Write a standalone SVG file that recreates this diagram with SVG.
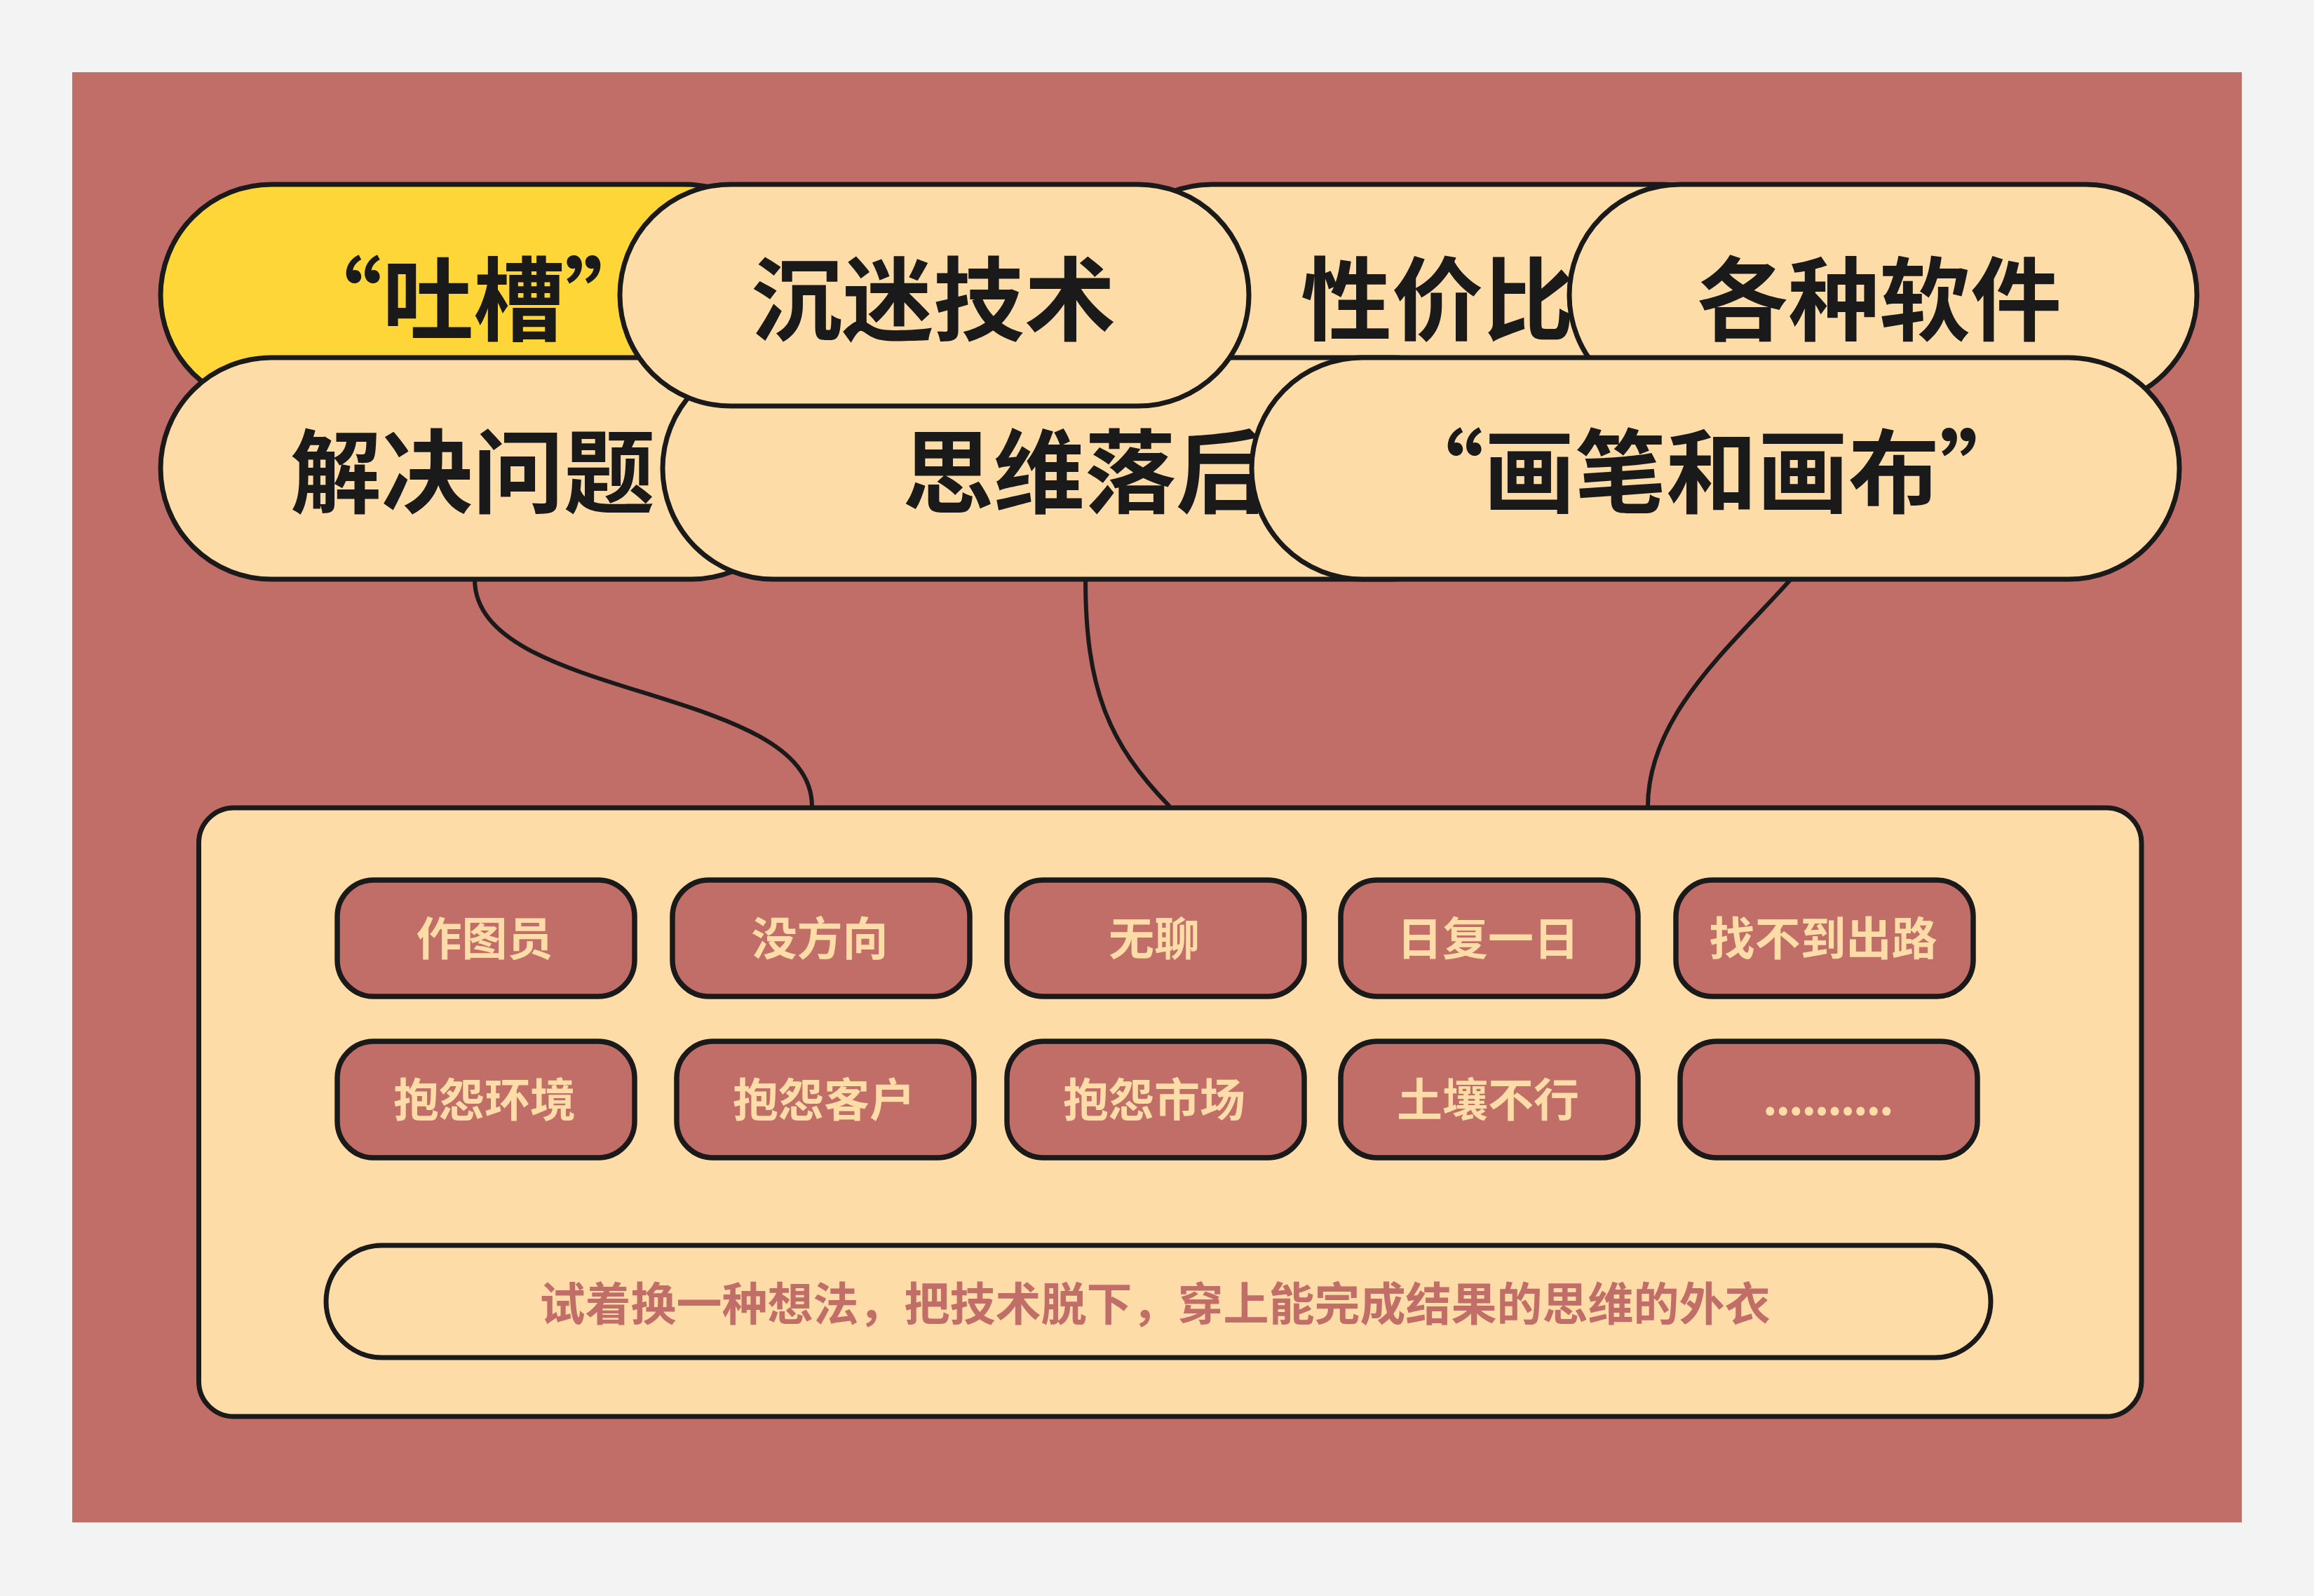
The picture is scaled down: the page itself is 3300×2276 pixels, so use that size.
<svg xmlns="http://www.w3.org/2000/svg" width="3300" height="2276" viewBox="0 0 3300 2276">
<style>
.pill{fill:#fddca8;stroke:#1a1a1a;stroke-width:7}
.pill-y{fill:#fed637;stroke:#1a1a1a;stroke-width:7}
.big{font-family:"Noto Sans CJK SC","Noto Sans",sans-serif;font-weight:700;font-size:130px;fill:#1a1a1a;text-anchor:middle}
.box{fill:#c16d68;stroke:#1a1a1a;stroke-width:7.5}
.small{font-family:"Noto Sans CJK SC","Noto Sans",sans-serif;font-weight:700;font-size:65px;fill:#fddca8;text-anchor:middle}
.note{font-family:"Noto Sans CJK SC","Noto Sans",sans-serif;font-weight:700;font-size:65px;fill:#c16d68;text-anchor:middle}
.conn{fill:none;stroke:#1a1a1a;stroke-width:6}
</style>
<rect x="0" y="0" width="3300" height="2276" fill="#f3f3f3"/>
<rect x="103" y="103" width="3094" height="2068" fill="#c16d68"/>
<g id="connectors">
<path class="conn" d="M 677 826 C 677 1000 1158 975 1158 1150"/>
<path class="conn" d="M 1548 826 C 1548 980 1580 1060 1668 1150"/>
<path class="conn" d="M 2553 827 C 2470 920 2350 1020 2350 1150"/>
</g>
<g id="node-tucao"><rect class="pill-y" x="229" y="263" width="905" height="316" rx="158" ry="158"/><text class="big" x="675" y="475">“吐槽”</text></g>
<g id="node-xingjiabi"><rect class="pill" x="1570" y="263" width="960" height="316" rx="158" ry="158"/><text class="big" x="2050" y="475">性价比</text></g>
<g id="node-gezhongruanjian"><rect class="pill" x="2238" y="263" width="895" height="316" rx="158" ry="158"/><text class="big" x="2680" y="475">各种软件</text></g>
<g id="node-jiejuewenti"><rect class="pill" x="229" y="510" width="915" height="316" rx="158" ry="158"/><text class="big" x="674" y="721">解决问题</text></g>
<g id="node-siweiluohou"><rect class="pill" x="945" y="510" width="1200" height="316" rx="158" ry="158"/><text class="big" x="1547" y="721">思维落后</text></g>
<g id="node-huabi"><rect class="pill" x="1785" y="510" width="1323" height="316" rx="158" ry="158"/><text class="big" x="2441" y="721">“画笔和画布”</text></g>
<g id="node-chenmi"><rect class="pill" x="884" y="263" width="897" height="316" rx="158" ry="158"/><text class="big" x="1331" y="475">沉迷技术</text></g>
<g id="node-container">
<rect class="pill" x="283.5" y="1152" width="2770.5" height="868" rx="50" ry="50"/>
<g id="item-zuotuyuan"><rect class="box" x="481" y="1255" width="424" height="166" rx="52" ry="52"/><text class="small" x="691" y="1362">作图员</text></g>
<g id="item-meifangxiang"><rect class="box" x="959" y="1255" width="424" height="166" rx="52" ry="52"/><text class="small" x="1169" y="1362">没方向</text></g>
<g id="item-wuliao"><rect class="box" x="1436" y="1255" width="424" height="166" rx="52" ry="52"/><text class="small" x="1646" y="1362">无聊</text></g>
<g id="item-rifuyiri"><rect class="box" x="1912" y="1255" width="424" height="166" rx="52" ry="52"/><text class="small" x="2122" y="1362">日复一日</text></g>
<g id="item-zhaobudao"><rect class="box" x="2390" y="1255" width="424" height="166" rx="52" ry="52"/><text class="small" x="2600" y="1362">找不到出路</text></g>
<g id="item-huanjing"><rect class="box" x="481" y="1485" width="424" height="166" rx="52" ry="52"/><text class="small" x="691" y="1592">抱怨环境</text></g>
<g id="item-kehu"><rect class="box" x="965" y="1485" width="424" height="166" rx="52" ry="52"/><text class="small" x="1175" y="1592">抱怨客户</text></g>
<g id="item-shichang"><rect class="box" x="1436" y="1485" width="424" height="166" rx="52" ry="52"/><text class="small" x="1646" y="1592">抱怨市场</text></g>
<g id="item-turang"><rect class="box" x="1912" y="1485" width="424" height="166" rx="52" ry="52"/><text class="small" x="2122" y="1592">土壤不行</text></g>
<g id="item-more"><rect class="box" x="2396" y="1485" width="424" height="166" rx="52" ry="52"/><text class="small" x="2606" y="1590" letter-spacing="-2.7">..........</text></g>
<g id="item-note"><rect class="pill" x="465" y="1776" width="2374" height="160" rx="80" ry="80"/><text class="note" x="1647" y="1883">试着换一种想法，把技术脱下，穿上能完成结果的思维的外衣</text></g>
</g>
</svg>
